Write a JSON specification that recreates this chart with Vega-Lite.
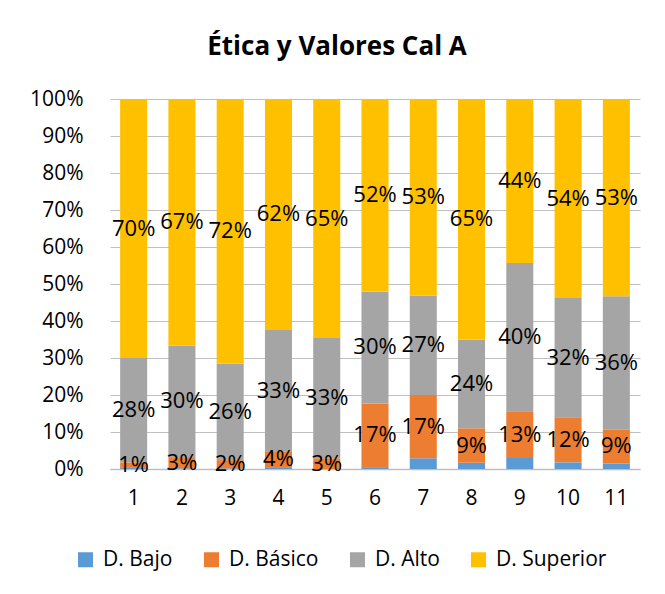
{
  "$schema": "https://vega.github.io/schema/vega-lite/v6.json",
  "autosize": {"type": "none"},
  "width": 530,
  "height": 370,
  "padding": {"left": 110, "top": 99, "right": 25, "bottom": 125},
  "background": "white",
  "title": {
    "text": "Ética y Valores Cal A",
    "font": "Open Sans",
    "fontSize": 26,
    "fontWeight": "bold",
    "color": "#000000",
    "anchor": "middle",
    "dx": -38,
    "offset": 28
  },
  "config": {
    "font": "Open Sans",
    "view": {"stroke": null}
  },
  "resolve": {"axis": {"y": "independent"}},
  "data": {
    "values": [
      {"cat": "1", "level": "D. Bajo", "order": 1, "v": 0.005},
      {"cat": "1", "level": "D. Básico", "order": 2, "v": 0.013},
      {"cat": "1", "level": "D. Alto", "order": 3, "v": 0.282},
      {"cat": "1", "level": "D. Superior", "order": 4, "v": 0.700},
      {"cat": "2", "level": "D. Bajo", "order": 1, "v": 0.002},
      {"cat": "2", "level": "D. Básico", "order": 2, "v": 0.030},
      {"cat": "2", "level": "D. Alto", "order": 3, "v": 0.301},
      {"cat": "2", "level": "D. Superior", "order": 4, "v": 0.667},
      {"cat": "3", "level": "D. Bajo", "order": 1, "v": 0.002},
      {"cat": "3", "level": "D. Básico", "order": 2, "v": 0.022},
      {"cat": "3", "level": "D. Alto", "order": 3, "v": 0.261},
      {"cat": "3", "level": "D. Superior", "order": 4, "v": 0.715},
      {"cat": "4", "level": "D. Bajo", "order": 1, "v": 0.005},
      {"cat": "4", "level": "D. Básico", "order": 2, "v": 0.043},
      {"cat": "4", "level": "D. Alto", "order": 3, "v": 0.328},
      {"cat": "4", "level": "D. Superior", "order": 4, "v": 0.624},
      {"cat": "5", "level": "D. Bajo", "order": 1, "v": 0.0},
      {"cat": "5", "level": "D. Básico", "order": 2, "v": 0.029},
      {"cat": "5", "level": "D. Alto", "order": 3, "v": 0.325},
      {"cat": "5", "level": "D. Superior", "order": 4, "v": 0.646},
      {"cat": "6", "level": "D. Bajo", "order": 1, "v": 0.005},
      {"cat": "6", "level": "D. Básico", "order": 2, "v": 0.172},
      {"cat": "6", "level": "D. Alto", "order": 3, "v": 0.303},
      {"cat": "6", "level": "D. Superior", "order": 4, "v": 0.520},
      {"cat": "7", "level": "D. Bajo", "order": 1, "v": 0.029},
      {"cat": "7", "level": "D. Básico", "order": 2, "v": 0.171},
      {"cat": "7", "level": "D. Alto", "order": 3, "v": 0.269},
      {"cat": "7", "level": "D. Superior", "order": 4, "v": 0.531},
      {"cat": "8", "level": "D. Bajo", "order": 1, "v": 0.017},
      {"cat": "8", "level": "D. Básico", "order": 2, "v": 0.093},
      {"cat": "8", "level": "D. Alto", "order": 3, "v": 0.240},
      {"cat": "8", "level": "D. Superior", "order": 4, "v": 0.650},
      {"cat": "9", "level": "D. Bajo", "order": 1, "v": 0.030},
      {"cat": "9", "level": "D. Básico", "order": 2, "v": 0.126},
      {"cat": "9", "level": "D. Alto", "order": 3, "v": 0.401},
      {"cat": "9", "level": "D. Superior", "order": 4, "v": 0.443},
      {"cat": "10", "level": "D. Bajo", "order": 1, "v": 0.018},
      {"cat": "10", "level": "D. Básico", "order": 2, "v": 0.122},
      {"cat": "10", "level": "D. Alto", "order": 3, "v": 0.322},
      {"cat": "10", "level": "D. Superior", "order": 4, "v": 0.538},
      {"cat": "11", "level": "D. Bajo", "order": 1, "v": 0.015},
      {"cat": "11", "level": "D. Básico", "order": 2, "v": 0.092},
      {"cat": "11", "level": "D. Alto", "order": 3, "v": 0.360},
      {"cat": "11", "level": "D. Superior", "order": 4, "v": 0.533}
    ]
  },
  "encoding": {
    "x": {
      "field": "cat",
      "type": "ordinal",
      "sort": ["1","2","3","4","5","6","7","8","9","10","11"],
      "scale": {"paddingInner": 0.44, "paddingOuter": 0.21},
      "axis": {
        "title": null,
        "labelAngle": 0,
        "labelFontSize": 21,
        "labelColor": "#000000",
        "labelPadding": 18,
        "ticks": false,
        "domain": true,
        "domainColor": "#bfbfbf",
        "domainWidth": 1.5,
        "grid": false
      }
    }
  },
  "layer": [
    {
      "mark": {"type": "bar"},
      "encoding": {
        "y": {
          "field": "v",
          "type": "quantitative",
          "stack": "zero",
          "scale": {"domain": [0, 1], "nice": false},
          "axis": {
            "title": null,
            "values": [0, 0.1, 0.2, 0.3, 0.4, 0.5, 0.6, 0.7, 0.8, 0.9, 1],
            "format": ".0%",
            "labelOverlap": false,
            "labelFontSize": 21,
            "labelColor": "#000000",
            "labelPadding": 27,
            "ticks": false,
            "domain": false,
            "grid": true,
            "gridColor": "#c0c0c0",
            "gridWidth": 1.2
          }
        },
        "color": {
          "field": "level",
          "type": "nominal",
          "sort": ["D. Bajo", "D. Básico", "D. Alto", "D. Superior"],
          "scale": {
            "domain": ["D. Bajo", "D. Básico", "D. Alto", "D. Superior"],
            "range": ["#5B9BD5", "#ED7D31", "#A5A5A5", "#FFC000"]
          },
          "legend": {
            "title": null,
            "orient": "none",
            "direction": "horizontal",
            "legendX": -35,
            "legendY": 450,
            "symbolType": "square",
            "symbolSize": 225,
            "symbolStrokeWidth": 0,
            "labelFontSize": 21,
            "labelColor": "#000000",
            "labelOffset": 7,
            "columnPadding": 28
          }
        },
        "order": {"field": "order", "type": "quantitative"}
      }
    },
    {
      "transform": [
        {"stack": "v", "groupby": ["cat"], "sort": [{"field": "order"}], "as": ["v0", "v1"]},
        {"calculate": "(datum.v0 + datum.v1) / 2", "as": "mid"},
        {"filter": "datum.level != 'D. Bajo'"}
      ],
      "mark": {"type": "text", "fontSize": 22, "color": "#000000", "baseline": "middle", "align": "center"},
      "encoding": {
        "y": {"field": "mid", "type": "quantitative", "axis": null},
        "text": {"field": "v", "type": "quantitative", "format": ".0%"}
      }
    }
  ]
}
